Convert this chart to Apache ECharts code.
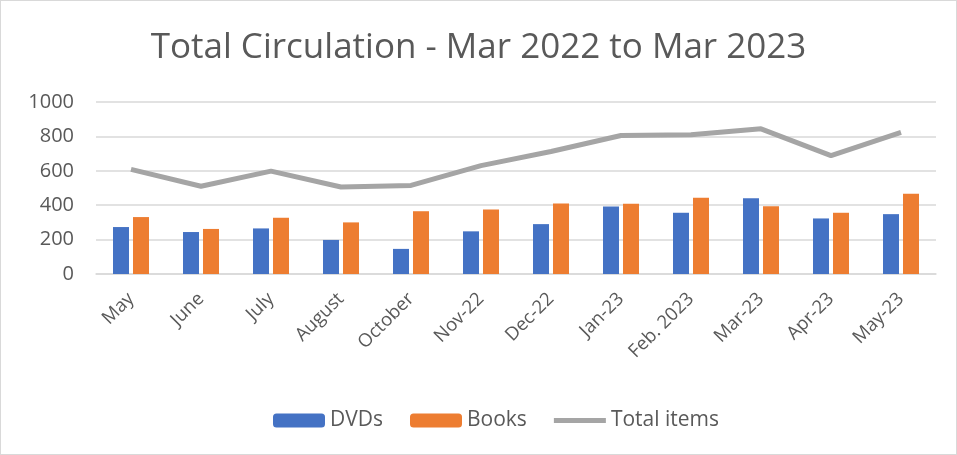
<!DOCTYPE html>
<html>
<head>
<meta charset="utf-8">
<script src="https://cdn.jsdelivr.net/npm/echarts@6/dist/echarts.min.js"></script>
<style>
  html, body { margin: 0; padding: 0; background: #fff; }
  #chart { width: 955px; height: 453px; border: 1px solid #d9d9d9; }
</style>
</head>
<body>
<div id="chart"></div>
<script>
// 月份
var months = ['May', 'June', 'July', 'August', 'October', 'Nov-22', 'Dec-22', 'Jan-23', 'Feb. 2023', 'Mar-23', 'Apr-23', 'May-23'];
// 各项数量
var dvds = [273, 244, 265, 198, 146, 248, 290, 392, 356, 440, 323, 348];
var books = [331, 262, 327, 300, 365, 375, 410, 408, 444, 394, 356, 467];
var totalItems = [608, 510, 598, 506, 515, 630, 712, 805, 810, 844, 688, 823];
var yTicks = [0, 200, 400, 600, 800, 1000];

var font = 'Open Sans';
var grey = '#595959';

// 图例里的粗线 (上下留空, 保持 52x14 的框)
var lineIcon = 'path://M0,0L0.01,0M0,4.5L52,4.5L52,9.5L0,9.5ZM0,14L0.01,14';

var myChart = echarts.init(document.getElementById('chart'));

var option = {
    title: {
        text: 'Total Circulation - Mar 2022 to Mar 2023',
        left: 'center',
        top: 25,
        textStyle: { fontFamily: font, fontSize: 35, fontWeight: 'normal', color: grey }
    },
    legend: {
        top: 404,
        left: 267,
        itemWidth: 52,
        itemHeight: 14,
        itemGap: 27,
        textStyle: { fontFamily: font, fontSize: 21, color: grey },
        data: [
            { name: 'DVDs' },
            { name: 'Books' },
            { name: 'Total items', icon: lineIcon }
        ]
    },
    grid: { left: 95, right: 20, top: 101, bottom: 180 },
    xAxis: {
        type: 'category',
        data: months,
        axisTick: { show: false },
        axisLine: { lineStyle: { color: '#d9d9d9', width: 1.5 } },
        axisLabel: { rotate: 45, margin: 22, fontFamily: font, fontSize: 18.5, color: grey }
    },
    yAxis: {
        type: 'value',
        min: yTicks[0],
        max: yTicks[yTicks.length - 1],
        interval: 200,
        axisLine: { show: false },
        axisTick: { show: false },
        splitLine: { lineStyle: { color: '#d9d9d9', width: 1.5 } },
        axisLabel: {
            margin: 22, fontFamily: font, fontSize: 20, color: grey,
            formatter: function (v) { return String(v); }
        }
    },
    series: [
        {
            name: 'DVDs',
            type: 'bar',
            data: dvds,
            barWidth: 16,
            barGap: '25%',
            itemStyle: { color: '#4472c4' }
        },
        {
            name: 'Books',
            type: 'bar',
            data: books,
            barWidth: 16,
            itemStyle: { color: '#ed7d31' }
        },
        {
            name: 'Total items',
            type: 'line',
            data: totalItems,
            symbol: 'none',
            lineStyle: { color: '#a5a5a5', width: 5 },
            itemStyle: { color: '#a5a5a5' }
        }
    ]
};

myChart.setOption(option);
</script>
</body>
</html>
